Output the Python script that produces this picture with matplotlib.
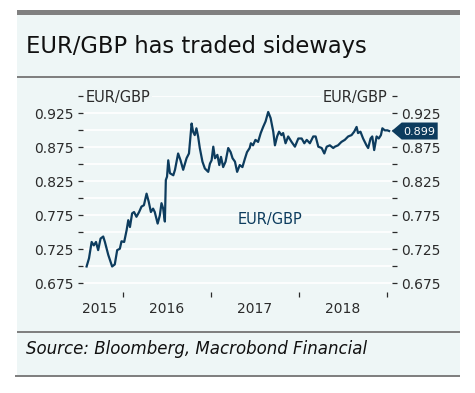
# EUR/GBP chart
import matplotlib
matplotlib.use('Agg')
import matplotlib.pyplot as plt
import matplotlib.transforms as mtransforms
from matplotlib.patches import Rectangle, Polygon
import numpy as np
import pandas as pd

# %% data ---------------------------------------------------------------------

dates = [
    '2015-08-03', '2015-08-13', '2015-08-24', '2015-09-02', '2015-09-11',
    '2015-09-20', '2015-09-30', '2015-10-11', '2015-10-18', '2015-11-01',
    '2015-11-17', '2015-11-28', '2015-12-08', '2015-12-19', '2015-12-26',
    '2016-01-06', '2016-01-16', '2016-01-23', '2016-01-30', '2016-02-08',
    '2016-02-16', '2016-02-26', '2016-03-08', '2016-03-18', '2016-03-28',
    '2016-04-08', '2016-04-17', '2016-04-26', '2016-05-05', '2016-05-12',
    '2016-05-24', '2016-06-02', '2016-06-09', '2016-06-16', '2016-06-23',
    '2016-06-27', '2016-07-02', '2016-07-07', '2016-07-14', '2016-07-28',
    '2016-08-04', '2016-08-17', '2016-08-27', '2016-09-07', '2016-09-21',
    '2016-10-01', '2016-10-12', '2016-10-18', '2016-10-25', '2016-11-01',
    '2016-11-08', '2016-11-15', '2016-11-26', '2016-12-06', '2016-12-20',
    '2016-12-27', '2017-01-03', '2017-01-10', '2017-01-17', '2017-01-27',
    '2017-02-04', '2017-02-11', '2017-02-20', '2017-03-02', '2017-03-13',
    '2017-03-23', '2017-03-31', '2017-04-10', '2017-04-19', '2017-04-30',
    '2017-05-11', '2017-05-21', '2017-05-30', '2017-06-10', '2017-06-15',
    '2017-06-24', '2017-07-04', '2017-07-15', '2017-07-26', '2017-08-05',
    '2017-08-15', '2017-08-26', '2017-09-05', '2017-09-16', '2017-09-23',
    '2017-10-02', '2017-10-10', '2017-10-20', '2017-10-27', '2017-11-06',
    '2017-11-17', '2017-12-01', '2017-12-15', '2017-12-29', '2018-01-12',
    '2018-01-23', '2018-02-02', '2018-02-15', '2018-03-01', '2018-03-11',
    '2018-03-22', '2018-04-05', '2018-04-16', '2018-04-26', '2018-05-09',
    '2018-05-23', '2018-05-30', '2018-06-12', '2018-06-26', '2018-07-10',
    '2018-07-24', '2018-08-07', '2018-08-18', '2018-08-28', '2018-09-03',
    '2018-09-13', '2018-09-24', '2018-10-08', '2018-10-15', '2018-10-25',
    '2018-11-01', '2018-11-09', '2018-11-19', '2018-11-28', '2018-12-07',
    '2018-12-13', '2018-12-23', '2019-01-03', '2019-01-10',
]

eurgbp = [
    0.700, 0.712, 0.736, 0.731, 0.736,
    0.724, 0.741, 0.744, 0.736, 0.717,
    0.700, 0.703, 0.724, 0.726, 0.737,
    0.736, 0.753, 0.768, 0.758, 0.778,
    0.780, 0.773, 0.780, 0.788, 0.790,
    0.807, 0.795, 0.780, 0.785, 0.780,
    0.763, 0.775, 0.793, 0.785, 0.766,
    0.827, 0.832, 0.856, 0.837, 0.834,
    0.842, 0.866, 0.856, 0.842, 0.859,
    0.866, 0.910, 0.898, 0.893, 0.903,
    0.891, 0.874, 0.854, 0.844, 0.839,
    0.851, 0.856, 0.876, 0.859, 0.864,
    0.849, 0.861, 0.846, 0.854, 0.874,
    0.868, 0.859, 0.854, 0.839, 0.849,
    0.846, 0.858, 0.868, 0.874, 0.881,
    0.878, 0.886, 0.883, 0.896, 0.905,
    0.913, 0.927, 0.918, 0.898, 0.878,
    0.891, 0.898, 0.893, 0.896, 0.881,
    0.891, 0.883, 0.876, 0.888, 0.888,
    0.881, 0.886, 0.881, 0.891, 0.891,
    0.876, 0.874, 0.866, 0.876, 0.878,
    0.874, 0.876, 0.878, 0.883, 0.886,
    0.891, 0.893, 0.898, 0.905, 0.896,
    0.898, 0.888, 0.878, 0.874, 0.888,
    0.891, 0.871, 0.891, 0.888, 0.893,
    0.903, 0.900, 0.900, 0.899,
]

year_ticks = ['2016-01-01', '2017-01-01', '2018-01-01', '2019-01-01']
year_labels = ['2015', '2016', '2017', '2018']
year_label_pos = ['2015-09-25', '2016-07-01', '2017-07-02', '2018-07-02']

y_ticks = [0.675, 0.700, 0.725, 0.750, 0.775, 0.800, 0.825,
           0.850, 0.875, 0.900, 0.925, 0.950]
y_labels = ['0.675', '', '0.725', '', '0.775', '', '0.825',
            '', '0.875', '', '0.925', '']

x = pd.to_datetime(dates)

# %% styles -------------------------------------------------------------------

W, H = 475, 393
BG = '#eef6f6'
GREY = '#808080'
NAVY = '#0d3c5e'
TXT = '#2b2b2b'

plt.rcParams['font.family'] = ['DejaVu Sans']

fig = plt.figure(figsize=(W / 100, H / 100), dpi=100)


def px_rect(x0, y0, x1, y1, color):
    # rectangle in pixel coordinates (origin top left)
    fig.patches.append(Rectangle((x0 / W, 1 - y1 / H), (x1 - x0) / W,
                                 (y1 - y0) / H, transform=fig.transFigure,
                                 facecolor=color, edgecolor='none',
                                 zorder=-10))


# panel and separator lines
px_rect(17, 10, 460, 377, BG)
px_rect(17, 10, 460, 15, GREY)
px_rect(17, 76, 460, 78, GREY)
px_rect(17, 331, 460, 333, GREY)
px_rect(15, 375, 460, 377, GREY)

fig.text(26 / W, 1 - 53.5 / H, 'EUR/GBP has traded sideways',
         fontsize=16.3, color='#111111', va='baseline')
fig.text(26 / W, 1 - 354 / H, 'Source: Bloomberg, Macrobond Financial',
         fontsize=12, style='italic', color='#111111', va='baseline')

# %% axes ---------------------------------------------------------------------

ax = fig.add_axes([82.5 / W, 1 - 292 / H, (392 - 82.5) / W,
                   (292 - 96.3) / H])
ax.set_zorder(1)
ax.set_facecolor(BG)
for s in ax.spines.values():
    s.set_visible(False)

ax.plot(x, eurgbp, color=NAVY, lw=1.6, zorder=3, solid_joinstyle='round')

ax.set_xlim(pd.Timestamp('2015-07-17'), pd.Timestamp('2019-01-22'))
ax.set_ylim(0.6625, 0.95)

ax.set_yticks(y_ticks, labels=y_labels)
ax.yaxis.grid(True, color='white', lw=1.2)
ax.set_axisbelow(True)
ax.tick_params(axis='y', left=True, right=True, labelleft=True,
               labelright=True, direction='out', length=3.6, width=0.9,
               color=TXT, labelcolor=TXT, labelsize=10, pad=3)

ax.set_xticks(pd.to_datetime(year_ticks), labels=['' for _ in year_ticks])
ax.set_xticks(pd.to_datetime(year_label_pos), labels=year_labels, minor=True)
ax.tick_params(axis='x', which='major', direction='out', length=3.6,
               width=0.9, color=TXT)
ax.tick_params(axis='x', which='minor', length=0, labelsize=10,
               labelcolor=TXT, pad=7)

# series labels
ax.text(0.011, 0.95, 'EUR/GBP', transform=ax.get_yaxis_transform(),
        ha='left', va='center_baseline', fontsize=10.5, color=TXT,
        bbox=dict(facecolor=BG, edgecolor='none', pad=1))
ax.text(0.985, 0.95, 'EUR/GBP', transform=ax.get_yaxis_transform(),
        ha='right', va='center_baseline', fontsize=10.5, color=TXT,
        bbox=dict(facecolor=BG, edgecolor='none', pad=1))
ax.text(pd.Timestamp('2017-09-03'), 0.771, 'EUR/GBP', ha='center',
        va='center_baseline', fontsize=10.5, color=NAVY)

# last value tag to the right of the axis
last = eurgbp[-1]
trans = mtransforms.blended_transform_factory(fig.transFigure, ax.transData)
half = 0.0125
tip, x0, x1 = 391.7 / W, 401.7 / W, 437.7 / W
tag = Polygon([(tip, last), (x0, last + half), (x1, last + half),
               (x1, last - half), (x0, last - half)], closed=True,
              transform=trans, facecolor=NAVY, edgecolor='none',
              clip_on=False, zorder=5)
ax.add_patch(tag)
ax.text((x0 + x1) / 2, last, f'{last:.3f}', transform=trans, ha='center',
        va='center_baseline', fontsize=8, color='white', zorder=6)

fig.savefig('out.png', dpi=100)
